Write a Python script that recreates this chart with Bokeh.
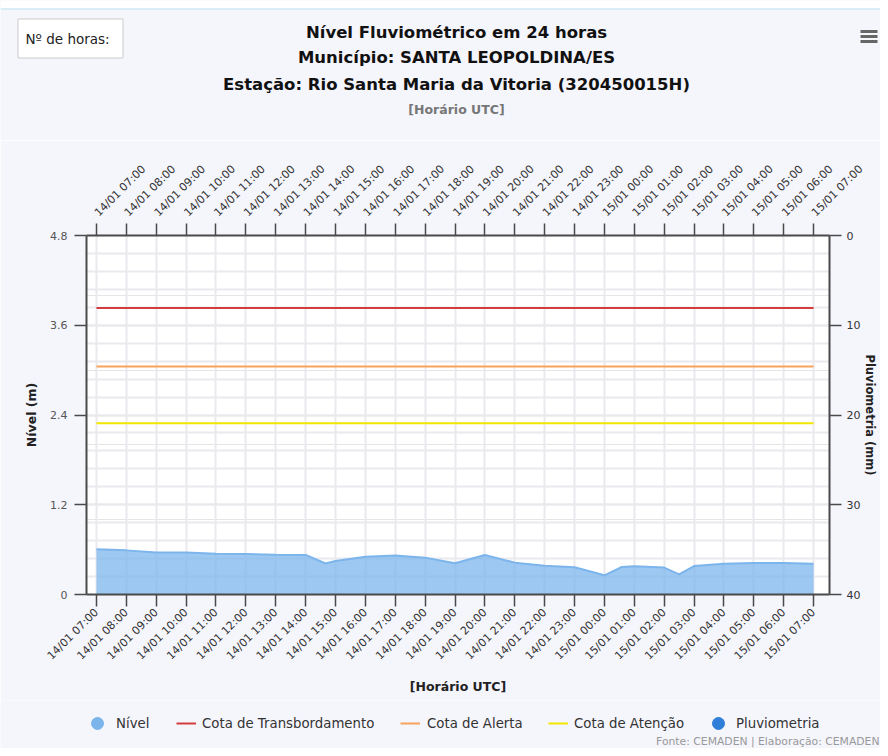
from datetime import datetime, timedelta
from math import pi

from bokeh.plotting import figure
from bokeh.layouts import column
from bokeh.models import (Range1d, LinearAxis, DatetimeAxis, FixedTicker, Grid,
                          DatetimeTickFormatter, Label, Legend, LegendItem,
                          ColumnDataSource)
from bokeh.embed import file_html
from bokeh.resources import INLINE

# ---------------- data ----------------
YEAR = 2025
times = ["14/01 07:00", "14/01 08:00", "14/01 09:00", "14/01 10:00", "14/01 11:00",
         "14/01 12:00", "14/01 13:00", "14/01 14:00", "14/01 14:40", "14/01 15:00",
         "14/01 16:00", "14/01 17:00", "14/01 18:00", "14/01 19:00", "14/01 20:00",
         "14/01 21:00", "14/01 22:00", "14/01 23:00", "15/01 00:00", "15/01 00:35",
         "15/01 01:00", "15/01 02:00", "15/01 02:30", "15/01 03:00", "15/01 04:00",
         "15/01 05:00", "15/01 06:00", "15/01 07:00"]
nivel = [0.605, 0.59, 0.56, 0.56, 0.546,
         0.54, 0.533, 0.529, 0.415, 0.448,
         0.506, 0.52, 0.493, 0.418, 0.529,
         0.426, 0.383, 0.365, 0.257, 0.368,
         0.378, 0.36, 0.27, 0.38, 0.41,
         0.42, 0.42, 0.41]

tick_labels = ["14/01 07:00", "14/01 08:00", "14/01 09:00", "14/01 10:00", "14/01 11:00",
               "14/01 12:00", "14/01 13:00", "14/01 14:00", "14/01 15:00", "14/01 16:00",
               "14/01 17:00", "14/01 18:00", "14/01 19:00", "14/01 20:00", "14/01 21:00",
               "14/01 22:00", "14/01 23:00", "15/01 00:00", "15/01 01:00", "15/01 02:00",
               "15/01 03:00", "15/01 04:00", "15/01 05:00", "15/01 06:00", "15/01 07:00"]
pluviometria = [0] * 25

cota_transbordamento = 3.83
cota_alerta = 3.05
cota_atencao = 2.29

y_ticks = [0, 1.2, 2.4, 3.6, 4.8]
pluv_ticks = [0, 10, 20, 30, 40]

title_lines = ["Nível Fluviométrico em 24 horas",
               "Município: SANTA LEOPOLDINA/ES",
               "Estação: Rio Santa Maria da Vitoria (320450015H)"]
subtitle = "[Horário UTC]"
credits = "Fonte: CEMADEN | Elaboração: CEMADEN"
legend_labels = ["Nível", "Cota de Transbordamento", "Cota de Alerta",
                 "Cota de Atenção", "Pluviometria"]

# ---------------- helpers ----------------
EPOCH = datetime(1970, 1, 1)


def parse(s):
    return datetime.strptime(f"{YEAR} {s}", "%Y %d/%m %H:%M")


def ms(dt):
    return (dt - EPOCH).total_seconds() * 1000.0


t = [parse(s) for s in times]
tick_t = [parse(s) for s in tick_labels]
tick_ms = [ms(d) for d in tick_t]

FONT = "DejaVu Sans"
BG = "#f5f5fc"
W = 880
H_HEAD, H_MAIN, H_FOOT = 140, 560, 48

C_NIVEL = "#7cb5ec"
C_TRANSB = "#d23c3c"
C_ALERTA = "#f7a35c"
C_ATENC = "#f2e600"
C_PLUV = "#2f7ed8"


def blank_fig(h):
    f = figure(width=W, height=h, output_backend="svg", toolbar_location=None,
               x_range=Range1d(0, W), y_range=Range1d(h, 0),
               x_axis_location=None, y_axis_location=None, min_border=0)
    f.frame_align = False
    f.outline_line_color = None
    f.background_fill_color = BG
    f.border_fill_color = BG
    f.xgrid.visible = False
    f.ygrid.visible = False
    return f


# ---------------- header ----------------
head = blank_fig(H_HEAD)
head.quad(left=0, right=W, top=0, bottom=8, fill_color="#ffffff", line_color=None)
head.segment(x0=0, y0=8.5, x1=W, y1=8.5, line_color="#cfeaf5", line_width=1.5)
head.quad(left=17.5, right=122.5, top=18.5, bottom=57.5, fill_color="#ffffff",
          line_color="#cccccc", line_width=1)
head.add_layout(Label(x=25, y=38, text="Nº de horas:", text_align="left",
                      text_baseline="middle", text_font=FONT,
                      text_font_size="13.5px", text_color="#222222"))
head.hbar(y=[31, 36, 41], left=860, right=877, height=3, fill_color="#666666",
          line_color=None)
for txt, yy in zip(title_lines, [32, 57, 84]):
    head.add_layout(Label(x=456, y=yy, text=txt, text_align="center",
                          text_baseline="middle", text_font=FONT,
                          text_font_style="bold", text_font_size="16.5px",
                          text_color="#111111"))
head.add_layout(Label(x=456, y=109, text=subtitle, text_align="center",
                      text_baseline="middle", text_font=FONT,
                      text_font_style="bold", text_font_size="12.5px",
                      text_color="#777777"))

# ---------------- main chart ----------------
x_range = Range1d(tick_t[0] - timedelta(minutes=20), tick_t[-1] + timedelta(minutes=32))
y_range = Range1d(0, 4.8)

p = figure(width=W, height=H_MAIN, output_backend="svg", toolbar_location=None,
           x_axis_location=None, y_axis_location=None, x_axis_type="datetime",
           x_range=x_range, y_range=y_range,
           min_border_left=86, min_border_right=50, min_border_top=95,
           min_border_bottom=106)
p.frame_align = False
p.extra_y_ranges = {"pluv": Range1d(40, 0)}
p.border_fill_color = BG
p.background_fill_color = "#ffffff"
p.outline_line_color = None

xticker = FixedTicker(ticks=tick_ms)
yticker = FixedTicker(ticks=y_ticks, minor_ticks=[i * 0.24 for i in range(21)])
fmt = DatetimeTickFormatter(hours="%d/%m %H:%M", hourmin="%d/%m %H:%M",
                            minutes="%d/%m %H:%M", minsec="%d/%m %H:%M",
                            days="%d/%m %H:%M", seconds="%d/%m %H:%M")

GRID = "#e9e9ee"
p.add_layout(Grid(dimension=0, ticker=xticker, grid_line_color=GRID, grid_line_width=2))
p.add_layout(Grid(dimension=1, ticker=yticker, grid_line_color=GRID, grid_line_width=2,
                  minor_grid_line_color=GRID, minor_grid_line_width=2))

AX = "#4a4a4a"


def style_axis(ax):
    ax.axis_line_color = AX
    ax.axis_line_width = 2
    ax.major_tick_line_color = AX
    ax.major_tick_line_width = 1.5
    ax.major_tick_out = 12
    ax.major_tick_in = 0
    ax.minor_tick_out = 0
    ax.minor_tick_in = 0
    ax.minor_tick_line_color = None
    ax.major_label_text_font = FONT
    ax.major_label_text_font_size = "11px"
    ax.major_label_text_color = "#333333"
    ax.axis_label_text_font = FONT
    ax.axis_label_text_font_style = "bold"
    ax.axis_label_text_color = "#222222"


xb = DatetimeAxis(ticker=xticker, formatter=fmt, major_label_orientation=pi / 4,
                  axis_label=subtitle)
style_axis(xb)
xb.major_label_standoff = 4
xb.axis_label_standoff = 9
xb.axis_label_text_font_size = "12.5px"
p.add_layout(xb, "below")

xt = DatetimeAxis(ticker=xticker, formatter=fmt, major_label_orientation=pi / 4)
style_axis(xt)
xt.major_label_standoff = 9
p.add_layout(xt, "above")

yl = LinearAxis(ticker=yticker, axis_label="Nível (m)")
style_axis(yl)
yl.major_label_text_color = "#555555"
yl.major_label_standoff = 7
yl.axis_label_standoff = 8
yl.axis_label_text_font_size = "12.5px"
p.add_layout(yl, "left")

yr = LinearAxis(y_range_name="pluv", ticker=FixedTicker(ticks=pluv_ticks),
                axis_label="Pluviometria (mm)")
style_axis(yr)
yr.major_label_standoff = 5
yr.axis_label_standoff = 0
yr.axis_label_text_font_size = "11.5px"
p.add_layout(yr, "right")

src = ColumnDataSource(dict(t=t, nivel=nivel))
p.varea(x="t", y1=0, y2="nivel", source=src, fill_color=C_NIVEL, fill_alpha=0.75)
p.line(x="t", y="nivel", source=src, line_color=C_NIVEL, line_width=2)

p.vbar(x=tick_t, top=pluviometria, bottom=0, width=timedelta(minutes=40),
       y_range_name="pluv", fill_color=C_PLUV, line_color=None)

span_t = [t[0], t[-1]]
p.line(x=span_t, y=[cota_transbordamento] * 2, line_color=C_TRANSB, line_width=2)
p.line(x=span_t, y=[cota_alerta] * 2, line_color=C_ALERTA, line_width=2)
p.line(x=span_t, y=[cota_atencao] * 2, line_color=C_ATENC, line_width=2)

# ---------------- footer (legend + credits) ----------------
foot = blank_fig(H_FOOT)
OFF = [-1000, -999]  # legend-only renderers, kept outside the visible range
r_nivel = foot.scatter(x=OFF, y=OFF, marker="circle", fill_color=C_NIVEL, line_color=C_NIVEL)
r_transb = foot.line(x=OFF, y=OFF, line_color=C_TRANSB, line_width=2)
r_alerta = foot.line(x=OFF, y=OFF, line_color=C_ALERTA, line_width=2)
r_atenc = foot.line(x=OFF, y=OFF, line_color=C_ATENC, line_width=2)
r_pluv = foot.scatter(x=OFF, y=OFF, marker="circle", fill_color=C_PLUV, line_color=C_PLUV)

leg_specs = [
    (legend_labels[0], r_nivel, 82, 10, 30, 30, 4),
    (legend_labels[1], r_transb, 176, 15, 20, 20, 6),
    (legend_labels[2], r_alerta, 400, 15, 20, 20, 7),
    (legend_labels[3], r_atenc, 548, 15, 20, 20, 6),
    (legend_labels[4], r_pluv, 703, 10, 30, 30, 3),
]
for label, rend, lx, ly, gw, gh, so in leg_specs:
    foot.add_layout(Legend(items=[LegendItem(label=label, renderers=[rend])],
                           location=(lx, ly), orientation="horizontal",
                           glyph_width=gw, glyph_height=gh, label_standoff=so,
                           padding=0, margin=0, spacing=0,
                           background_fill_alpha=0, border_line_alpha=0,
                           label_text_font=FONT, label_text_font_size="13.3px",
                           label_text_color="#333333"), "center")

foot.add_layout(Label(x=879, y=41, text=credits, text_align="right",
                      text_baseline="middle", text_font=FONT,
                      text_font_size="10.8px", text_color="#999999"))

layout = column(head, p, foot, spacing=0)
open("out.html", "w").write(file_html(layout, INLINE))
